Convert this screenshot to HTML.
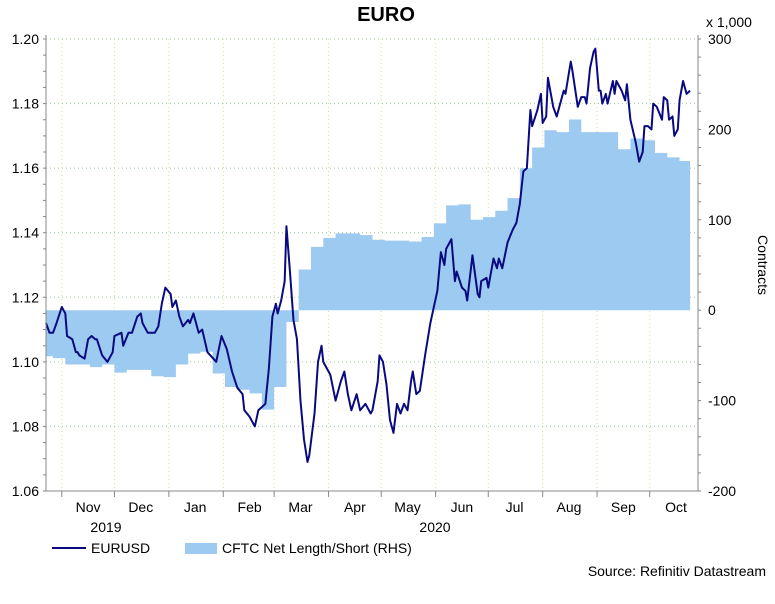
<!DOCTYPE html>
<html><head><meta charset="utf-8"><style>
body{margin:0;background:#fff;font-family:"Liberation Sans",sans-serif}
svg text{font-family:"Liberation Sans",sans-serif;fill:#000}
</style></head><body>
<svg id="c" width="775" height="599" xmlns="http://www.w3.org/2000/svg"></svg>
<script>
// days since 2019-10-23
const eurDays=[0,2,4,6,9,11,12,15,17,18,19,22,24,26,28,29,32,35,38,39,43,44,47,49,52,54,55,58,62,64,66,68,71,72,74,76,78,81,82,84,87,89,92,97,100,103,106,109,112,113,116,119,121,125,127,129,131,132,134,136,137,139,141,143,145,147,149,150,153,155,157,158,162,165,168,170,172,174,177,179,182,185,186,189,190,192,194,196,198,200,202,204,206,208,209,211,213,216,219,223,225,227,228,231,233,234,237,239,240,243,246,247,248,251,252,255,257,258,260,263,266,268,270,272,274,276,277,280,282,283,285,286,289,291,295,296,299,300,303,305,307,308,310,312,313,315,316,317,319,320,323,324,325,328,330,331,333,336,338,340,341,343,345,346,348,351,352,354,355,357,358,360,361,363,365,367];
const eurusd=[1.112,1.109,1.109,1.112,1.117,1.115,1.108,1.107,1.103,1.103,1.102,1.101,1.107,1.108,1.107,1.107,1.102,1.100,1.103,1.108,1.109,1.105,1.109,1.109,1.114,1.115,1.112,1.109,1.109,1.111,1.118,1.123,1.121,1.117,1.119,1.114,1.111,1.113,1.112,1.115,1.109,1.110,1.103,1.100,1.108,1.104,1.097,1.092,1.090,1.085,1.083,1.080,1.085,1.087,1.098,1.114,1.118,1.115,1.119,1.125,1.142,1.128,1.113,1.107,1.088,1.076,1.069,1.071,1.084,1.100,1.105,1.100,1.096,1.088,1.094,1.097,1.090,1.085,1.090,1.085,1.087,1.084,1.085,1.094,1.102,1.100,1.093,1.082,1.078,1.087,1.084,1.087,1.085,1.094,1.097,1.090,1.091,1.102,1.112,1.122,1.134,1.130,1.135,1.138,1.125,1.128,1.123,1.122,1.119,1.133,1.121,1.120,1.125,1.126,1.123,1.132,1.129,1.132,1.129,1.137,1.141,1.143,1.149,1.159,1.160,1.178,1.173,1.178,1.183,1.174,1.176,1.188,1.179,1.176,1.184,1.183,1.193,1.190,1.179,1.182,1.182,1.180,1.191,1.196,1.197,1.184,1.184,1.180,1.183,1.180,1.187,1.183,1.187,1.184,1.181,1.186,1.175,1.168,1.162,1.165,1.173,1.173,1.172,1.180,1.179,1.175,1.182,1.181,1.175,1.176,1.170,1.172,1.181,1.187,1.183,1.184];
// weekly CFTC net (thousands of contracts), weeks start 3 days before 2019-10-23
const cftc=[-51,-53,-60,-60,-63,-60,-69,-66,-66,-73,-74,-60,-48,-46,-70,-85,-88,-92,-110,-85,-13,45,70,80,85,85,83,78,77,77,76,81,96,116,117,100,103,110,124,157,180,199,197,211,197,197,197,178,190,188,174,169,165];
const cftcStart=-3;
const leftTicks=[1.06,1.08,1.10,1.12,1.14,1.16,1.18,1.20];
const rightTicks=[-200,-100,0,100,200,300];
const monthNames=['Nov','Dec','Jan','Feb','Mar','Apr','May','Jun','Jul','Aug','Sep','Oct'];
const monthStarts=[9,39,70,101,130,161,191,222,252,283,314,344];
const lastDay=367;

const X0=46,X1=698,Y0=39,Y1=491,PXD=1.755;
const xs=d=>X0+d*PXD;
const yl=v=>Y1-(v-1.06)/(0.14)*(Y1-Y0);
const yr=v=>Y1-(v+200)/500*(Y1-Y0);
const svg=document.getElementById('c');
const NS='http://www.w3.org/2000/svg';
function mk(t,a,p){const e=document.createElementNS(NS,t);for(const k in a)e.setAttribute(k,a[k]);(p||svg).appendChild(e);return e;}

leftTicks.forEach(v=>{if(v>1.06){const g=mk('line',{x1:X0,x2:X1,y1:yl(v),y2:yl(v),stroke:'#9c9',"stroke-dasharray":'1,3'});

}});
monthStarts.forEach(d=>{const g=mk('line',{x1:xs(d),x2:xs(d),y1:Y0,y2:Y1,stroke:'#dd9',"stroke-dasharray":'1,3'});

});

let p='M'+xs(0)+','+yr(0);
cftc.forEach((v,i)=>{const a=xs(Math.max(0,cftcStart+i*7)),b=xs(Math.min(cftcStart+(i+1)*7,lastDay));if(b>a)p+=' L'+a+','+yr(v)+' L'+b+','+yr(v);});
p+=' L'+xs(lastDay)+','+yr(0)+'Z';
const area=mk('path',{d:p,fill:'#9dcaf0'});



const line=mk('polyline',{points:eurDays.map((d,i)=>xs(d)+','+yl(eurusd[i])).join(' '),fill:'none',stroke:'#0a0a80','stroke-width':2,'stroke-linejoin':'round'});



mk('line',{x1:X0,x2:X0,y1:Y0-4,y2:Y1,stroke:'#888'});
mk('line',{x1:X1,x2:X1,y1:Y0-4,y2:Y1,stroke:'#888'});
mk('line',{x1:X0,x2:X1,y1:Y1,y2:Y1,stroke:'#888'});
for(let v=1.06;v<=1.2001;v+=0.005){mk('line',{x1:X0-3,x2:X0,y1:yl(v),y2:yl(v),stroke:'#888'});}
for(let v=-200;v<=300;v+=20){mk('line',{x1:X1,x2:X1+3,y1:yr(v),y2:yr(v),stroke:'#888'});}
leftTicks.forEach(v=>{const t=mk('text',{x:X0-7,y:yl(v)+5,'text-anchor':'end','font-size':14});t.textContent=v.toFixed(2);

});
rightTicks.forEach(v=>{const t=mk('text',{x:X1+10,y:yr(v)+5,'font-size':14});t.textContent=v;

});
monthStarts.forEach((d,i)=>{mk('line',{x1:xs(d),x2:xs(d),y1:Y1,y2:Y1+6,stroke:'#888'});
const t=mk('text',{x:xs(d+15),y:512,'text-anchor':'middle','font-size':14});t.textContent=monthNames[i];

});
</script>
<svg width="775" height="599" style="position:absolute;left:0;top:0" xmlns="http://www.w3.org/2000/svg">
<text x="386" y="21" text-anchor="middle" font-size="20" font-weight="bold">EURO</text>
<text x="706" y="27" font-size="14">x 1,000</text>
<text x="0" y="0" font-size="14" transform="translate(758,265) rotate(90)" text-anchor="middle">Contracts</text>
<text x="106" y="532" font-size="14" text-anchor="middle">2019</text>
<text x="435" y="532" font-size="14" text-anchor="middle">2020</text>
<line x1="52" x2="86" y1="548" y2="548" stroke="#0a0a80" stroke-width="2"/>
<text x="91" y="553" font-size="14">EURUSD</text>
<rect x="185" y="543" width="32" height="11" fill="#9dcaf0"/>
<text x="222" y="553" font-size="14">CFTC Net Length/Short (RHS)</text>
<text x="766" y="576" font-size="14" text-anchor="end">Source: Refinitiv Datastream</text>
</svg>
</body></html>
